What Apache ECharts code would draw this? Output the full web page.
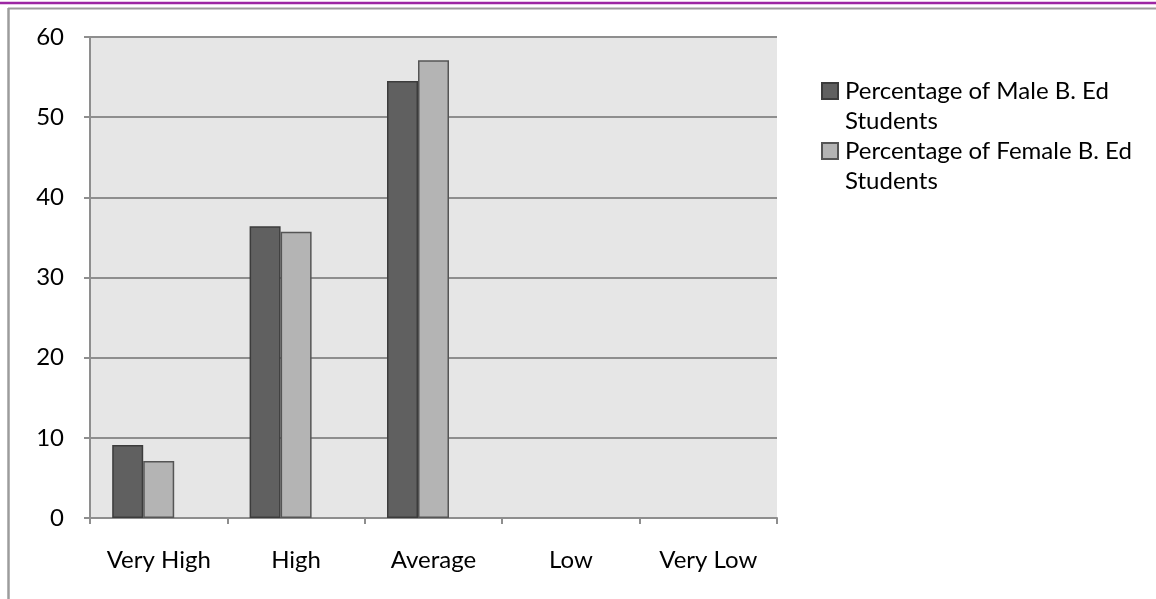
<!DOCTYPE html>
<html>
<head>
<meta charset="utf-8">
<title>Percentage of B. Ed Students by Level</title>
<script src="https://cdn.jsdelivr.net/npm/echarts@6/dist/echarts.min.js"></script>
<style>
  html, body { margin: 0; padding: 0; background: #ffffff; }
  #chart { width: 1156px; height: 599px; }
</style>
</head>
<body>
<div id="chart"></div>
<script>
// Levels along the category axis
const categories = ['Very High', 'High', 'Average', 'Low', 'Very Low'];

// Percentages per level
const maleValues = [9.1, 36.4, 54.5, null, null];
const femaleValues = [7.1, 35.7, 57.1, null, null];

// Series names shown in the legend
const maleName = 'Percentage of Male B. Ed\nStudents';
const femaleName = 'Percentage of Female B. Ed\nStudents';

// Value axis ticks
const yTicks = [0, 10, 20, 30, 40, 50, 60];

const FONT = 'Lato, "Open Sans", sans-serif';
const GRID_GRAY = '#8e8e8e';

const chart = echarts.init(document.getElementById('chart'), null, { renderer: 'canvas' });

chart.setOption({
  backgroundColor: '#ffffff',
  animation: false,
  textStyle: { fontFamily: FONT, color: '#000000' },
  grid: {
    left: 90,
    top: 37,
    width: 687,
    height: 481,
    show: true,
    backgroundColor: '#e6e6e6',
    borderWidth: 0
  },
  legend: {
    orient: 'vertical',
    left: 821,
    top: 46,
    padding: 0,
    itemWidth: 16,
    itemHeight: 16,
    itemGap: -30,
    icon: 'rect',
    data: [maleName, femaleName],
    // a blank leading line puts the first line of each name level with its marker
    formatter: name => ' \n' + name,
    textStyle: {
      fontFamily: FONT,
      fontSize: 24,
      color: '#000000',
      lineHeight: 30,
      padding: [0, 0, 0, 2]
    }
  },
  xAxis: {
    type: 'category',
    data: categories,
    boundaryGap: true,
    axisLine: { show: true, lineStyle: { color: GRID_GRAY, width: 2 } },
    axisTick: { show: true, length: 6, inside: false, alignWithLabel: false,
                lineStyle: { color: GRID_GRAY, width: 2 } },
    axisLabel: { margin: 30, fontSize: 24, color: '#000000', fontFamily: FONT },
    splitLine: { show: false }
  },
  yAxis: {
    type: 'value',
    min: yTicks[0],
    max: yTicks[yTicks.length - 1],
    interval: yTicks[1] - yTicks[0],
    axisLine: { show: true, lineStyle: { color: GRID_GRAY, width: 2 } },
    axisTick: { show: true, length: 6, inside: false, lineStyle: { color: GRID_GRAY, width: 2 } },
    axisLabel: { margin: 26, fontSize: 24, color: '#000000', fontFamily: FONT },
    splitLine: { show: true, lineStyle: { color: GRID_GRAY, width: 2 } }
  },
  series: [
    {
      name: maleName,
      type: 'bar',
      data: maleValues,
      barWidth: 31,
      barGap: '0%',
      itemStyle: { color: '#606060', borderColor: '#3c3c3c', borderWidth: 1.5 }
    },
    {
      name: femaleName,
      type: 'bar',
      data: femaleValues,
      barWidth: 31,
      barGap: '0%',
      itemStyle: { color: '#b4b4b4', borderColor: '#555555', borderWidth: 1.5 }
    },
    {
      // empty third slot of each cluster, keeps the bars left of the band centre
      name: '',
      type: 'bar',
      data: [null, null, null, null, null],
      barWidth: 31,
      barGap: '0%',
      silent: true
    }
  ],
  graphic: [
    // purple rule across the top of the page
    { type: 'line', silent: true, z: 100,
      shape: { x1: 0, y1: 3, x2: 1156, y2: 3 },
      style: { stroke: '#9c27a3', lineWidth: 2.5 } },
    // chart frame: top edge
    { type: 'line', silent: true, z: 100,
      shape: { x1: 8, y1: 8.5, x2: 1156, y2: 8.5 },
      style: { stroke: '#9c9c9c', lineWidth: 2 } },
    // chart frame: left edge
    { type: 'line', silent: true, z: 100,
      shape: { x1: 8.5, y1: 8, x2: 8.5, y2: 599 },
      style: { stroke: '#9c9c9c', lineWidth: 2.5 } }
  ]
});
</script>
</body>
</html>
